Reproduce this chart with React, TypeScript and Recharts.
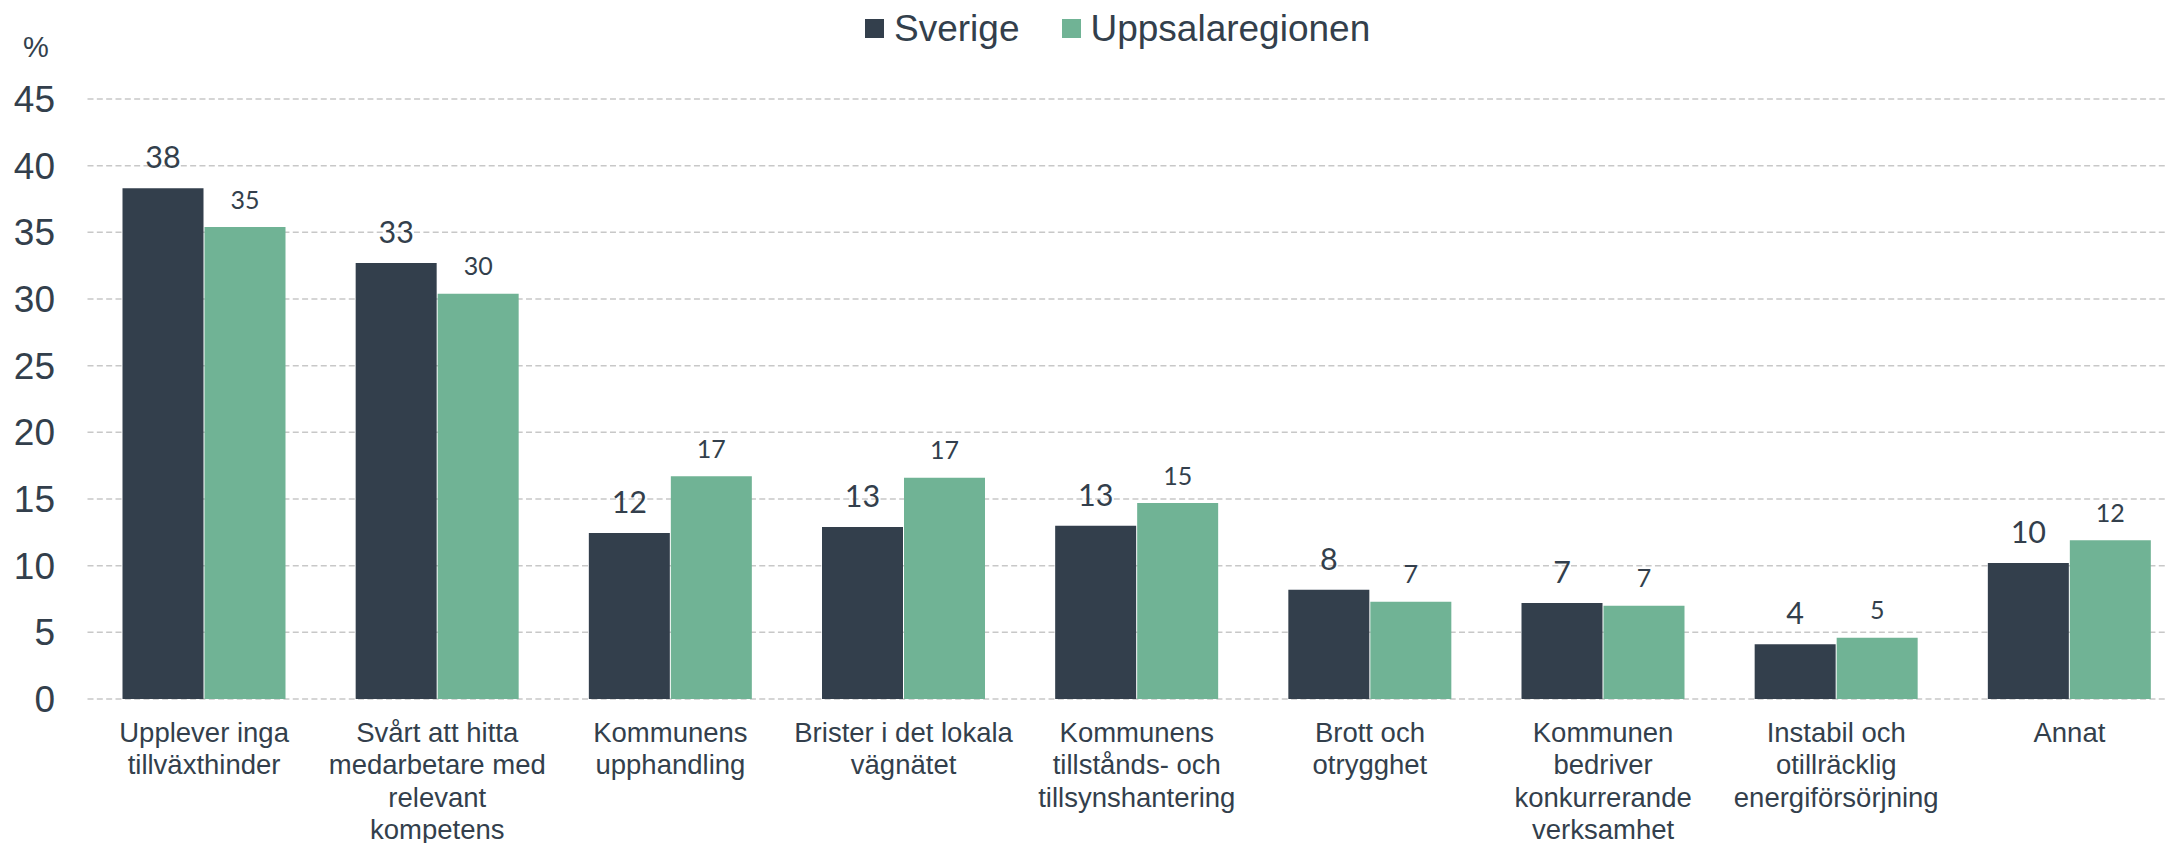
import React from 'react';
import { BarChart, Bar, XAxis, YAxis, CartesianGrid, LabelList } from 'recharts';

const categories = [
  'Upplever inga\ntillväxthinder',
  'Svårt att hitta\nmedarbetare med\nrelevant\nkompetens',
  'Kommunens\nupphandling',
  'Brister i det lokala\nvägnätet',
  'Kommunens\ntillstånds- och\ntillsynshantering',
  'Brott och\notrygghet',
  'Kommunen\nbedriver\nkonkurrerande\nverksamhet',
  'Instabil och\notillräcklig\nenergiförsörjning',
  'Annat',
];
const sverige = [38.3, 32.7, 12.45, 12.9, 13.0, 8.2, 7.2, 4.1, 10.2];
const uppsala = [35.4, 30.4, 16.7, 16.6, 14.7, 7.3, 7.0, 4.6, 11.9];
const yTicks = [0, 5, 10, 15, 20, 25, 30, 35, 40, 45];
const seriesNames = ['Sverige', 'Uppsalaregionen'];

const DARK = '#333f4c';
const GREEN = '#70b395';
const TEXT = '#333f4c';
const SANS = '"Liberation Sans", Arial, sans-serif';

const data = categories.map((name, i) => ({ name, sverige: sverige[i], uppsala: uppsala[i] }));

// multi-line category label, lines split on \n
const CategoryTick = (props: any) => {
  const { x, y, payload } = props;
  const lines = String(payload.value).split('\n');
  return (
    <text x={x} y={y + 43.2} textAnchor="middle" fill={TEXT} fontSize={27.5} fontFamily={SANS}>
      {lines.map((line, i) => (
        <tspan key={i} x={x} dy={i === 0 ? 0 : 32.2}>
          {line}
        </tspan>
      ))}
    </text>
  );
};

export default function App() {
  return (
    <div
      style={{
        position: 'absolute',
        left: 0,
        top: 0,
        width: 2167,
        height: 843,
        overflow: 'hidden',
        background: '#fff',
      }}
    >
      <div
        style={{
          position: 'absolute',
          left: 23,
          top: 32.5,
          fontFamily: SANS,
          fontSize: 29,
          lineHeight: '29px',
          color: TEXT,
        }}
      >
        %
      </div>
      <div
        style={{
          position: 'absolute',
          left: 865,
          top: 10.4,
          display: 'flex',
          alignItems: 'center',
          fontFamily: SANS,
          fontSize: 37,
          lineHeight: '37px',
          color: TEXT,
          whiteSpace: 'nowrap',
        }}
      >
        <span style={{ width: 19, height: 19, background: DARK, marginRight: 10 }} />
        <span>{seriesNames[0]}</span>
        <span style={{ width: 19, height: 19, background: GREEN, marginLeft: 43, marginRight: 9 }} />
        <span>{seriesNames[1]}</span>
      </div>
      <BarChart
        width={2186}
        height={843}
        data={data}
        margin={{ top: 99, right: 0, bottom: 0, left: 0 }}
        barSize={81}
        barGap={1}
      >
        <CartesianGrid vertical={false} stroke="#c8c8c8" strokeWidth={1.5} strokeDasharray="6 3.33" />
        <XAxis
          dataKey="name"
          axisLine={false}
          tickLine={false}
          tickSize={0}
          tickMargin={0}
          height={144}
          interval={0}
          tick={<CategoryTick />}
        />
        <YAxis
          domain={[0, 45]}
          ticks={yTicks}
          width={87.5}
          axisLine={false}
          tickLine={false}
          tickSize={0}
          tickMargin={32.5}
          tick={{ fill: TEXT, fontSize: 37, fontFamily: SANS }}
        />
        <Bar dataKey="sverige" name={seriesNames[0]} fill={DARK} isAnimationActive={false}>
          <LabelList
            dataKey="sverige"
            position="top"
            offset={20}
            formatter={(v: any) => Math.round(Number(v))}
            fill={TEXT}
            fontSize={30.5}
            fontFamily="Lato, sans-serif"
          />
        </Bar>
        <Bar dataKey="uppsala" name={seriesNames[1]} fill={GREEN} isAnimationActive={false}>
          <LabelList
            dataKey="uppsala"
            position="top"
            offset={18.5}
            formatter={(v: any) => Math.round(Number(v))}
            fill={TEXT}
            fontSize={25}
            fontFamily="Lato, sans-serif"
          />
        </Bar>
      </BarChart>
    </div>
  );
}
